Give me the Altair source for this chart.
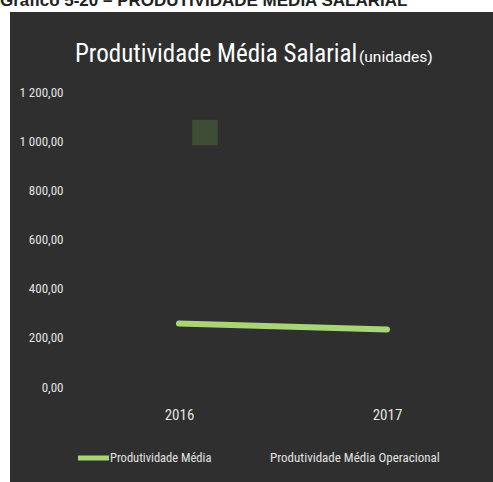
import altair as alt
import pandas as pd

# ---- data ----
anos = ["2016", "2017"]
prod_media = [258, 234]
oper_anos = ["2016"]
prod_oper = [1035]
series = ["Produtividade Média", "Produtividade Média Operacional"]
y_ticks = [0, 200, 400, 600, 800, 1000, 1200]
titulo = "Produtividade Média Salarial"
unidade = "(unidades)"
legenda_fig = "Gráfico 5-20 – PRODUTIVIDADE MÉDIA SALARIAL"

W, H = 416, 295
FONT = "Roboto Condensed, Roboto, sans-serif"
GREEN = "#a8d676"
TXT = "#e2e2e2"

df_line = pd.DataFrame({"ano": anos, "valor": prod_media, "serie": series[0]})
df_pt = pd.DataFrame({"ano": oper_anos, "valor": prod_oper, "serie": series[1]})
one = pd.DataFrame({"k": [0]})

x_enc = alt.X(
    "ano:N",
    scale=alt.Scale(type="point", padding=0.5, domain=anos),
    axis=alt.Axis(title=None, labelAngle=0, domain=False, ticks=False, grid=False, zindex=2,
                  labelColor=TXT, labelFontSize=15, labelFont=FONT, labelPadding=20),
)
y_enc = alt.Y(
    "valor:Q",
    scale=alt.Scale(domain=[0, 1200], nice=False, zero=True),
    axis=alt.Axis(title=None, values=y_ticks, domain=False, ticks=False, grid=False, zindex=2,
                  labelColor=TXT, labelFontSize=13, labelFont=FONT, labelPadding=12,
                  labelExpr="replace(replace(format(datum.value, ',.2f'), ',', ' '), '.', ',')"),
)

bg = alt.Chart(one).mark_rect(color="#2f2f2f").encode(
    x=alt.value(-65), x2=alt.value(420), y=alt.value(-80), y2=alt.value(392)
)

line = alt.Chart(df_line).mark_line(color=GREEN, strokeWidth=6, strokeCap="round").encode(
    x=x_enc, y=y_enc
)

pt = alt.Chart(df_pt).mark_square(color="#5a7a40", size=650, opacity=0.4, xOffset=26).encode(
    x=x_enc, y=y_enc
)

cap = alt.Chart(one).mark_text(align="left", baseline="alphabetic", font="Liberation Sans, Arial",
                               fontWeight="bold", fontSize=17, color="#222222").encode(
    x=alt.value(-75), y=alt.value(-86), text=alt.value(legenda_fig)
)
t1 = alt.Chart(one).mark_text(align="left", baseline="alphabetic", font=FONT,
                              fontSize=25, color="#ffffff").encode(
    x=alt.value(0), y=alt.value(-30), text=alt.value(titulo)
)
t2 = alt.Chart(one).mark_text(align="left", baseline="alphabetic", font="Roboto, sans-serif",
                              fontSize=15.5, color="#ffffff").encode(
    x=alt.value(284), y=alt.value(-30), text=alt.value(unidade)
)
sw = alt.Chart(one).mark_rule(color=GREEN, strokeWidth=5).encode(
    x=alt.value(3), x2=alt.value(34), y=alt.value(366)
)
l1 = alt.Chart(one).mark_text(align="left", baseline="middle", font=FONT,
                              fontSize=12.5, color=TXT).encode(
    x=alt.value(35), y=alt.value(366), text=alt.value(series[0])
)
l2 = alt.Chart(one).mark_text(align="left", baseline="middle", font=FONT,
                              fontSize=13, color=TXT).encode(
    x=alt.value(195), y=alt.value(366), text=alt.value(series[1])
)

chart = alt.layer(bg, line, pt, cap, t1, t2, sw, l1, l2).properties(
    width=W, height=H,
    autosize=alt.AutoSizeParams(type="none"),
    padding={"left": 75, "top": 92, "right": 2, "bottom": 95},
    background="#ffffff",
).configure_view(stroke=None)

chart.save("out.html", embed_options={"renderer": "svg", "actions": False})
